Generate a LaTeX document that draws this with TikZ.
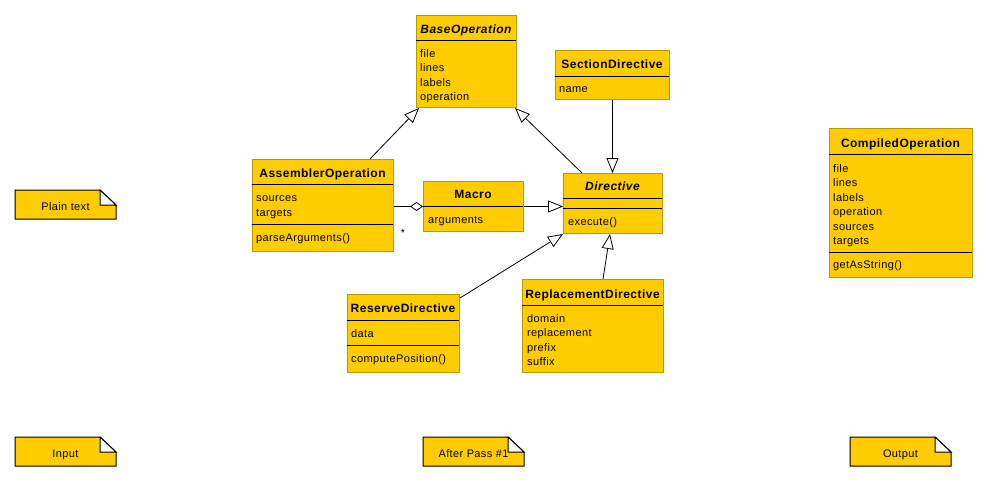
\documentclass[tikz,border=0pt]{standalone}
\usepackage{fontspec}
\setmainfont{Liberation Sans}
\newfontfamily\umlattrfont[LetterSpace=3.5]{Liberation Sans}
\newfontfamily\umltitlefont[LetterSpace=4]{Liberation Sans}
\usetikzlibrary{arrows.meta}
\definecolor{umlfill}{HTML}{FFCC00}
\definecolor{umlborder}{HTML}{B89A00}
\tikzset{
  clsbox/.style={draw=umlborder, fill=umlfill, line width=1pt, inner sep=0pt, anchor=north west, rectangle},
  ttl/.style={anchor=base, inner sep=0pt, font=\umltitlefont\fontsize{12}{14}\selectfont\bfseries},
  ttlit/.style={anchor=base, inner sep=0pt, font=\umltitlefont\fontsize{12}{14}\selectfont\bfseries\itshape},
  attr/.style={anchor=base west, inner sep=0pt, font=\umlattrfont\fontsize{11}{13}\selectfont},
  notetext/.style={anchor=base, inner sep=0pt, font=\umlattrfont\fontsize{11}{13}\selectfont},
  sepline/.style={draw=black, line width=1pt},
  notepath/.style={draw=black, line width=1pt},
  gen/.style={-{Triangle[fill=white,length=15pt,width=12pt]}, line width=0.8pt},
  agg/.style={{Diamond[fill=white,length=13pt,width=9pt]}-, line width=0.8pt},
  mult/.style={inner sep=0pt, font=\fontsize{10.5}{12}\selectfont},
}
\newcommand\clsrect[5]{\node[clsbox, minimum width={#4-#2}, minimum height={#5-#3}] (#1) at (#2,#3) {};}
\newcommand\sepat[3]{\draw[sepline] (#1,#3) -- (#2,#3);}
\newcommand\mynote[6]{%
  \fill[umlfill] (#2,#3) -- ({#4-16},#3) -- (#4,{#3+15}) -- (#4,#5) -- (#2,#5) -- cycle;
  \draw[notepath] (#2,#3) -- ({#4-16},#3) -- (#4,{#3+15}) -- (#4,#5) -- (#2,#5) -- cycle;
  \draw[notepath, fill=white] ({#4-16},#3) -- ({#4-16},{#3+15}) -- (#4,{#3+15}) -- cycle;
  \node[notetext] (#1) at ({(#2+#4)/2},{#3+20}) {#6};}
\begin{document}
\begin{tikzpicture}[x=1pt,y=-1pt]
\useasboundingbox (0,0) rectangle (987,482);

% BaseOperation
\clsrect{base}{416}{15}{516}{107}
\sepat{416}{516}{40}
\node[ttlit] (base-t) at (466,33) {BaseOperation};
\foreach \t [count=\i] in {file,lines,labels,operation}
  \node[attr] (base-a\i) at (420,{57+(\i-1)*14.5}) {\t};

% SectionDirective
\clsrect{sec}{555}{50}{669}{99}
\sepat{555}{669}{76}
\node[ttl] (sec-t) at (612,68) {SectionDirective};
\node[attr] (sec-a1) at (559,92) {name};

% AssemblerOperation
\clsrect{asm}{252}{159}{393}{251}
\sepat{252}{393}{184}
\sepat{252}{393}{224}
\node[ttl] (asm-t) at (322.5,177) {AssemblerOperation};
\node[attr] (asm-a1) at (256,201.5) {sources};
\node[attr] (asm-a2) at (256,216) {targets};
\node[attr] (asm-m1) at (256,241) {parseArguments()};

% Macro
\clsrect{mac}{423}{181}{523}{231}
\sepat{423}{523}{206}
\node[ttl] (mac-t) at (473,198.5) {Macro};
\node[attr] (mac-a1) at (428,223.5) {arguments};

% Directive
\clsrect{dir}{563}{173}{662}{233}
\sepat{563}{662}{198}
\sepat{563}{662}{208}
\node[ttlit] (dir-t) at (612.5,190.5) {Directive};
\node[attr] (dir-m1) at (568,225.5) {execute()};

% ReserveDirective
\clsrect{res}{347}{294}{459}{372}
\sepat{347}{459}{320}
\sepat{347}{459}{345}
\node[ttl] (res-t) at (403,312) {ReserveDirective};
\node[attr] (res-a1) at (351,337.5) {data};
\node[attr] (res-m1) at (351,362) {computePosition()};

% ReplacementDirective
\clsrect{rep}{522}{279}{663}{372}
\sepat{522}{663}{305}
\node[ttl] (rep-t) at (592.5,298) {ReplacementDirective};
\foreach \t [count=\i] in {domain,replacement,prefix,suffix}
  \node[attr] (rep-a\i) at (527,{322+(\i-1)*14.5}) {\t};

% CompiledOperation
\clsrect{comp}{829}{128}{972}{277}
\sepat{829}{972}{154}
\sepat{829}{972}{252}
\node[ttl] (comp-t) at (900.5,147) {CompiledOperation};
\foreach \t [count=\i] in {file,lines,labels,operation,sources,targets}
  \node[attr] (comp-a\i) at (833,{172+(\i-1)*14.5}) {\t};
\node[attr] (comp-m1) at (833,268.5) {getAsString()};

% Notes
\mynote{n-plain}{15}{190}{116}{219}{Plain text}
\mynote{n-input}{15}{437}{116}{466}{Input}
\mynote{n-after}{423}{437}{524}{466}{After Pass \#1}
\mynote{n-output}{850}{437}{951}{466}{Output}

% Connectors
\draw[gen] ([xshift=-24pt]asm.north east) -- ([xshift=3pt]base.south west);
\draw[gen] ([xshift=19pt]dir.north west) -- ([xshift=-2pt]base.south east);
\draw[gen] (sec.south) -- (sec.south |- dir.north);
\draw[gen] (mac.east) -- (mac.east -| dir.west);
\draw[agg] (mac.west) -- (mac.west -| asm.east);
\draw[gen] ([yshift=-4pt]res.north east) -- (dir.south west);
\draw[gen] ([xshift=10pt]rep.north) -- ([xshift=-3pt]dir.south);
\node[mult] (star) at (403,233) {*};
\end{tikzpicture}
\end{document}
